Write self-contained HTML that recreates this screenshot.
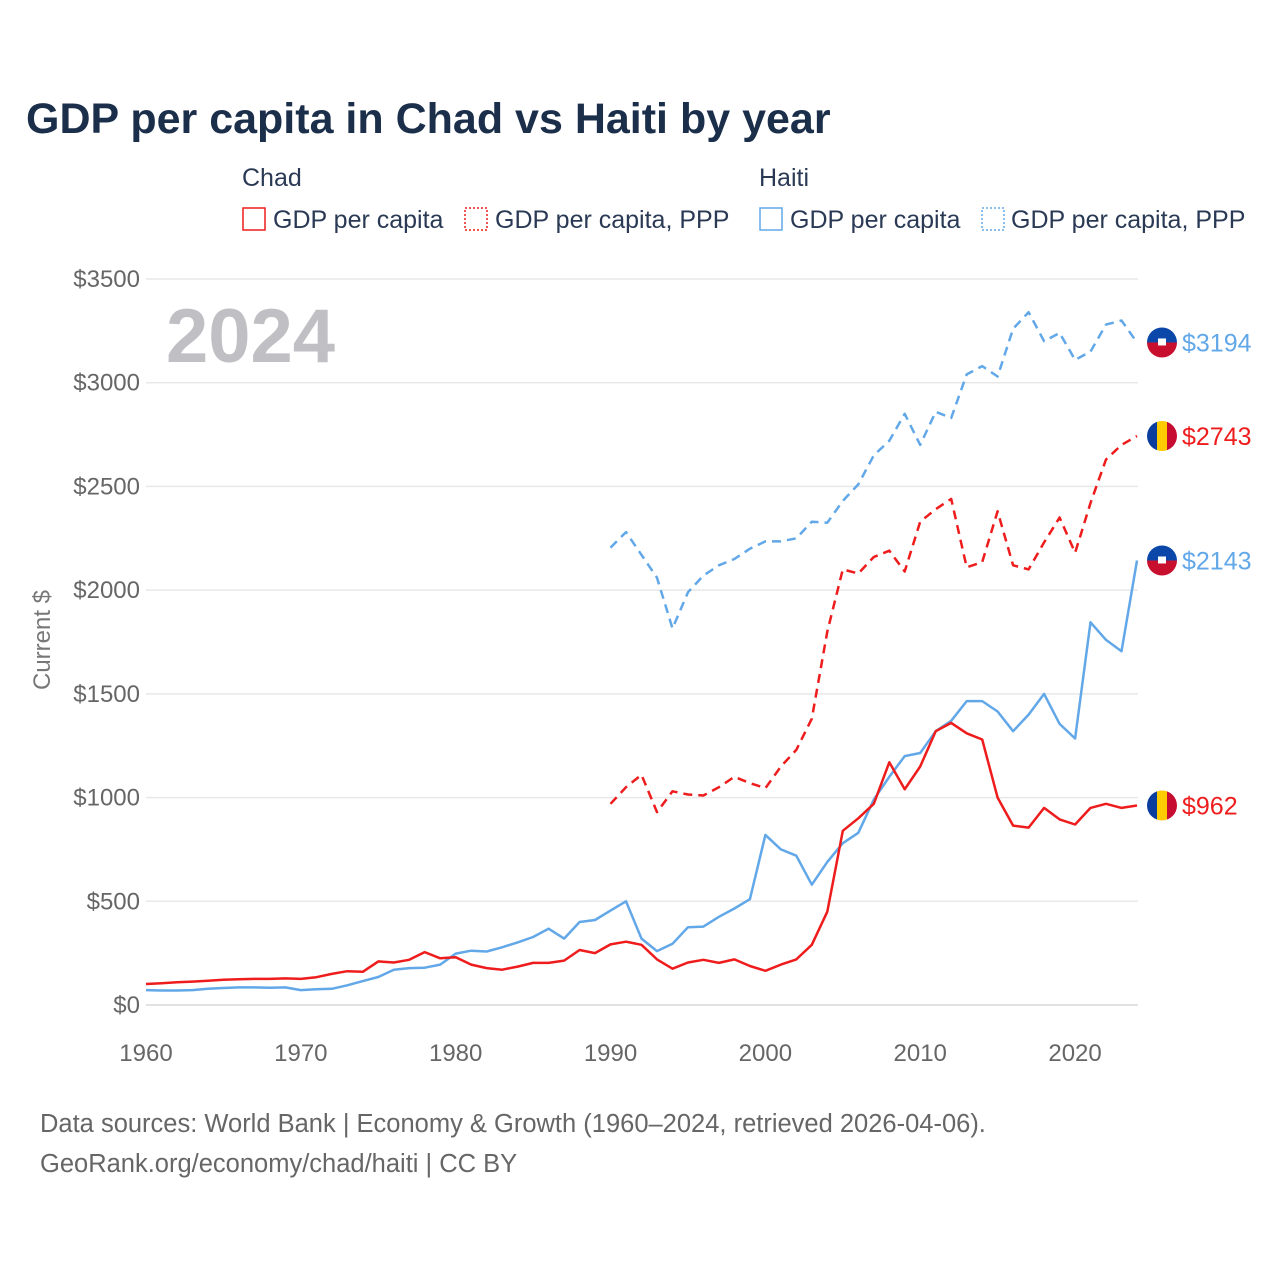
<!DOCTYPE html>
<html><head><meta charset="utf-8">
<style>
body{margin:0;background:#fff;}
svg{display:block;font-family:"Liberation Sans",sans-serif;}
</style></head>
<body>
<svg id="chart" width="1280" height="1280" viewBox="0 0 1280 1280" xmlns="http://www.w3.org/2000/svg">
<text x="26" y="133" font-size="43" font-weight="bold" fill="#1b2f4b">GDP per capita in Chad vs Haiti by year</text>
<g font-size="25" fill="#2a3a55">
<text x="242" y="186">Chad</text>
<text x="759" y="186">Haiti</text>
<g><rect x="243" y="208" width="22" height="22" fill="none" stroke="#ee1c1c" stroke-width="1.5"/><text x="273" y="228">GDP per capita</text></g>
<g><rect x="465" y="208" width="22" height="22" fill="none" stroke="#ee1c1c" stroke-width="1.5" stroke-dasharray="2,2"/><text x="495" y="228">GDP per capita, PPP</text></g>
<g><rect x="760" y="208" width="22" height="22" fill="none" stroke="#62a8e8" stroke-width="1.5"/><text x="790" y="228">GDP per capita</text></g>
<g><rect x="982" y="208" width="22" height="22" fill="none" stroke="#62a8e8" stroke-width="1.5" stroke-dasharray="2,2"/><text x="1011" y="228">GDP per capita, PPP</text></g>
</g>
<text x="166" y="362" font-size="76" font-weight="bold" fill="#bfbfc4">2024</text>
<text transform="translate(50,640) rotate(-90)" text-anchor="middle" font-size="24" fill="#777">Current $</text>
<g id="grid"></g><g id="series"></g><g id="ends"></g>
<g font-size="25.5" fill="#666">
<text x="40" y="1132">Data sources: World Bank | Economy &amp; Growth (1960–2024, retrieved 2026-04-06).</text>
<text x="40" y="1172">GeoRank.org/economy/chad/haiti | CC BY</text>
</g>
</svg>
<script>
const yTicks=[0,500,1000,1500,2000,2500,3000,3500];
const xTicks=[1960,1970,1980,1990,2000,2010,2020];
const chadGdp=[101,105,110,113,117,122,124,126,126,128,126,134,150,163,160,210,205,218,255,225,230,195,178,170,185,203,203,214,265,250,292,305,290,220,175,205,218,203,220,188,165,195,220,290,450,840,900,970,1170,1040,1150,1320,1360,1310,1280,1000,865,855,950,895,870,950,970,950,962];
const haitiGdp=[72,70,70,72,78,82,85,85,83,85,72,76,78,95,115,135,170,178,180,195,248,262,258,278,302,328,368,320,400,410,455,500,320,260,295,375,378,425,465,510,820,750,720,580,690,780,830,990,1100,1200,1215,1320,1370,1465,1465,1415,1320,1400,1500,1355,1285,1845,1760,1705,2143];
const chadPpp=[970,1050,1110,930,1030,1015,1010,1050,1100,1070,1045,1150,1230,1380,1800,2100,2080,2160,2190,2090,2330,2390,2440,2110,2135,2380,2120,2100,2230,2350,2180,2420,2630,2700,2743];
const haitiPpp=[2205,2280,2170,2060,1815,1990,2070,2120,2150,2200,2235,2235,2250,2330,2325,2430,2510,2650,2720,2850,2700,2860,2830,3040,3080,3030,3260,3340,3200,3240,3110,3150,3280,3300,3194];
const NS="http://www.w3.org/2000/svg";
const X=y=>146+(y-1960)*(1137-146)/64;
const Y=v=>1005-v*(1005-279)/3500;
function mk(tag,attrs,parent){const e=document.createElementNS(NS,tag);for(const k in attrs)e.setAttribute(k,attrs[k]);parent.appendChild(e);return e;}
const grid=document.getElementById('grid');
yTicks.forEach(v=>{
 const l=mk('line',{x1:146,x2:1138,y1:Y(v),y2:Y(v),stroke:v===0?'#d8d8d8':'#e8e8e8','stroke-width':1.5},grid);
 
 
 const t=mk('text',{x:140,y:Y(v)+8,'text-anchor':'end','font-size':24,fill:'#666'},grid);
 t.textContent='$'+v;
 
 
});
xTicks.forEach(yr=>{
 const t=mk('text',{x:X(yr),y:1061,'text-anchor':'middle','font-size':24,fill:'#666'},grid);
 t.textContent=yr;
 
 
});
const ser=document.getElementById('series');
function line(vals,start,color,dash,name){
 const pts=vals.map((v,i)=>X(start+i).toFixed(1)+','+Y(v).toFixed(1)).join(' ');
 const p=mk('polyline',{points:pts,fill:'none',stroke:color,'stroke-width':2.5,'stroke-linejoin':'round'},ser);
 if(dash)p.setAttribute('stroke-dasharray',dash);
 
 
}
line(haitiPpp,1990,'#62a8e8','9,6','line-haiti-ppp');
line(chadPpp,1990,'#ee1c1c','9,6','line-chad-ppp');
line(haitiGdp,1960,'#62a8e8',null,'line-haiti-gdp');
line(chadGdp,1960,'#ee1c1c',null,'line-chad-gdp');
const ends=document.getElementById('ends');
function flag(v,country,color,name){
 const cx=1162,cy=Y(v),r=15;
 const g=mk('g',{},ends);
 
 
 const id='c'+name;
 const cp=mk('clipPath',{id:id},g);mk('circle',{cx:cx,cy:cy,r:r},cp);
 const f=mk('g',{'clip-path':'url(#'+id+')'},g);
 if(country==='haiti'){
  mk('rect',{x:cx-r,y:cy-r,width:2*r,height:r,fill:'#0a47a8'},f);
  mk('rect',{x:cx-r,y:cy,width:2*r,height:r,fill:'#c8102e'},f);
  mk('rect',{x:cx-4,y:cy-4,width:8,height:7,fill:'#fff'},f);
 }else{
  mk('rect',{x:cx-r,y:cy-r,width:10,height:2*r,fill:'#0a3d9e'},f);
  mk('rect',{x:cx-5,y:cy-r,width:10,height:2*r,fill:'#fecb00'},f);
  mk('rect',{x:cx+5,y:cy-r,width:10,height:2*r,fill:'#c60c30'},f);
 }
 const t=mk('text',{x:1182,y:cy+9,'font-size':25,fill:color},g);
 t.textContent='$'+v;
}
flag(haitiPpp[haitiPpp.length-1],'haiti','#62a8e8','end-label-haiti-ppp');
flag(chadPpp[chadPpp.length-1],'chad','#ee1c1c','end-label-chad-ppp');
flag(haitiGdp[haitiGdp.length-1],'haiti','#62a8e8','end-label-haiti-gdp');
flag(chadGdp[chadGdp.length-1],'chad','#ee1c1c','end-label-chad-gdp');
</script>
</body></html>
